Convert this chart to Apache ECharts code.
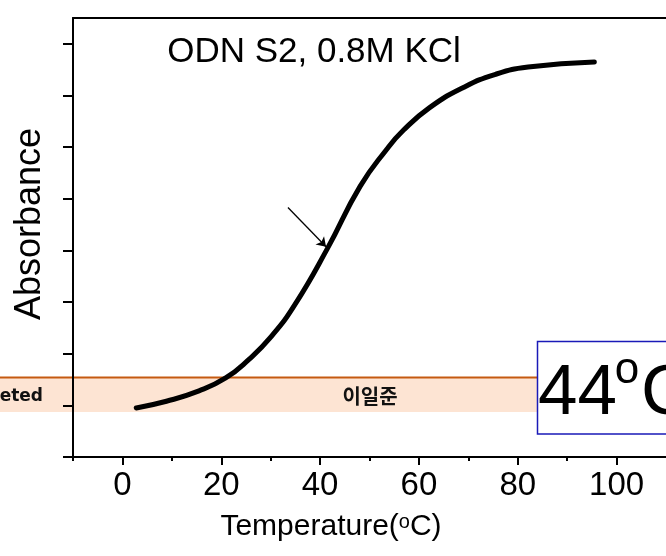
<!DOCTYPE html>
<html><head><meta charset="utf-8">
<script src="https://cdn.jsdelivr.net/npm/echarts@6/dist/echarts.min.js"></script>
<style>html,body{margin:0;padding:0;background:#fff}#c{width:666px;height:556px}</style>
</head><body><div id="c"></div>
<script>
// ---- data ----
const temperatures = [2.8, 8.9, 15.5, 20.9, 25.5, 30.1, 34.9, 41.5, 48.1, 53.5, 56.9, 62.1, 68.9, 75.5, 82.1, 95.5];
const absorbance   = [0.95, 1.08, 1.28, 1.53, 1.88, 2.33, 2.95, 4.04, 5.24, 5.96, 6.33, 6.76, 7.15, 7.41, 7.55, 7.65];
const xMajorTicks = [0, 20, 40, 60, 80, 100];
const xMinorTicks = [-10, 10, 30, 50, 70, 90];
const yTicks = [0, 1, 2, 3, 4, 5, 6, 7, 8];
const arrowStart = [33.5, 4.83];
const arrowEnd = [41.2, 4.07];
const titleText = 'ODN S2, 0.8M KCl';
const yTitle = 'Absorbance';
const bandText = '이일준';
const bandLeftText = 'eted';

const chart = echarts.init(document.getElementById('c'), null, {renderer: 'canvas'});
const font = '"Liberation Sans", Arial, sans-serif';
const seriesData = temperatures.map((t, i) => [t, absorbance[i]]);

chart.setOption({
  animation: false,
  backgroundColor: '#fff',
  grid: {left: 73, top: 18, right: -7, bottom: 99, containLabel: false},
  xAxis: [
    {
      type: 'value', min: -10, max: 110, interval: 10, position: 'bottom',
      axisLine: {show: true, onZero: false, lineStyle: {color: '#000', width: 2}},
      axisTick: {show: true, inside: false, length: 8, customValues: xMajorTicks, lineStyle: {color: '#000', width: 2}},
      axisLabel: {show: true, customValues: xMajorTicks, margin: 12, color: '#000', fontSize: 33, fontFamily: font},
      splitLine: {show: false}
    },
    {
      type: 'value', min: -10, max: 110, interval: 10, position: 'bottom',
      axisLine: {show: false, onZero: false},
      axisTick: {show: true, inside: false, length: 4, customValues: xMinorTicks, lineStyle: {color: '#000', width: 2}},
      axisLabel: {show: false},
      splitLine: {show: false}
    },
    {
      type: 'value', min: -10, max: 110, interval: 10, position: 'top',
      axisLine: {show: true, onZero: false, lineStyle: {color: '#000', width: 2}},
      axisTick: {show: false}, axisLabel: {show: false}, splitLine: {show: false}
    }
  ],
  yAxis: {
    type: 'value', min: 0, max: 8.5, interval: 1,
    axisLine: {show: true, onZero: false, lineStyle: {color: '#000', width: 2}},
    axisTick: {show: true, inside: false, length: 10, customValues: yTicks, lineStyle: {color: '#000', width: 2}},
    axisLabel: {show: false},
    splitLine: {show: false}
  },
  series: [{
    type: 'line',
    xAxisIndex: 0,
    data: seriesData,
    smooth: 0.5,
    showSymbol: false,
    symbol: 'none',
    lineStyle: {color: '#000', width: 5, cap: 'round', join: 'round'},
    z: 5,
    markLine: {
      silent: true,
      symbol: ['none', 'arrow'],
      symbolSize: 9,
      label: {show: false},
      lineStyle: {color: '#000', width: 1.3, type: 'solid'},
      data: [[{coord: arrowStart}, {coord: arrowEnd}]]
    }
  }],
  graphic: [
    {type: 'rect', z: -5, silent: true, shape: {x: 0, y: 378, width: 537, height: 34}, style: {fill: '#fde4d3'}},
    {type: 'line', z: -4, silent: true, shape: {x1: 0, y1: 377.5, x2: 537, y2: 377.5}, style: {stroke: '#c55a11', lineWidth: 2}},
    {type: 'text', z: -3, silent: true, x: 370, y: 396, style: {text: bandText, fill: '#111', font: 'bold 20px "Noto Sans CJK KR", sans-serif', align: 'center', verticalAlign: 'middle'}},
    {type: 'text', z: -3, silent: true, x: 43, y: 397, style: {text: bandLeftText, fill: '#111', font: 'bold 17px "DejaVu Sans", sans-serif', align: 'right', verticalAlign: 'middle'}},
    {type: 'rect', z: 10, silent: true, shape: {x: 537.5, y: 341.5, width: 200, height: 92.5}, style: {fill: '#fff', stroke: '#1a1ab8', lineWidth: 1.5}},
    {type: 'text', z: 11, silent: true, x: 538, y: 394, style: {text: '44', fill: '#000', font: '71px "Liberation Sans", Arial, sans-serif', align: 'left', verticalAlign: 'middle'}},
    {type: 'text', z: 11, silent: true, x: 627, y: 371, style: {text: 'o', fill: '#000', font: '44px "Liberation Sans", Arial, sans-serif', align: 'center', verticalAlign: 'middle'}},
    {type: 'text', z: 11, silent: true, x: 641, y: 394, style: {text: 'C', fill: '#000', font: '71px "Liberation Sans", Arial, sans-serif', align: 'left', verticalAlign: 'middle'}},
    {type: 'text', z: 11, silent: true, x: 314, y: 52, style: {text: titleText, fill: '#000', font: '35px "Liberation Sans", Arial, sans-serif', align: 'center', verticalAlign: 'middle'}},
    {type: 'text', z: 11, silent: true, x: 30, y: 224, rotation: Math.PI / 2, style: {text: yTitle, fill: '#000', font: '36px "Liberation Sans", Arial, sans-serif', align: 'center', verticalAlign: 'middle'}},
    {type: 'text', z: 11, silent: true, x: 331, y: 527, style: {
      text: '{a|Temperature(}{s|o}{a|C)}', align: 'center', verticalAlign: 'middle',
      rich: {
        a: {fontSize: 30, fontFamily: font, fill: '#000', color: '#000'},
        s: {fontSize: 20, fontFamily: font, fill: '#000', color: '#000', verticalAlign: 'top'}
      }
    }}
  ]
});
</script>
</body></html>
